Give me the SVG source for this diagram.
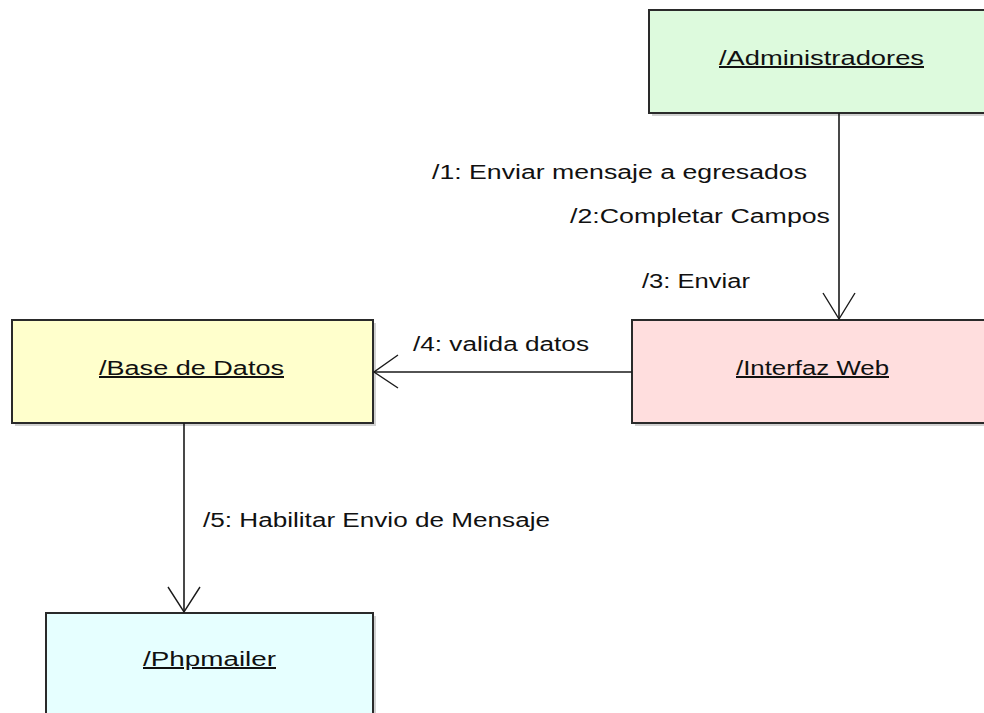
<svg xmlns="http://www.w3.org/2000/svg" width="984" height="713" viewBox="0 0 984 713">
<style>
.box{stroke:#2a2a2a;stroke-width:2}
.shadow{fill:#000;opacity:0.18}
.lbl{font-family:"Liberation Sans",Arial,sans-serif;font-size:20px;fill:#111}
.nl{text-decoration:underline}
.conn{stroke:#1a1a1a;stroke-width:1.6;fill:none}
.head{stroke:#1a1a1a;stroke-width:1.4;fill:none}
</style>
<rect width="984" height="713" fill="#fff"/>
<g id="administradores">
<rect class="shadow" x="652" y="13" width="340" height="103"/>
<rect class="box" x="649" y="10" width="340" height="103" fill="#ddfadd"/>
<text class="lbl nl" x="719" y="65" textLength="205" lengthAdjust="spacingAndGlyphs">/Administradores</text>
</g>
<g id="interfaz-web">
<rect class="shadow" x="635" y="323" width="360" height="103"/>
<rect class="box" x="632" y="320" width="360" height="103" fill="#ffdede"/>
<text class="lbl nl" x="736" y="375" textLength="153" lengthAdjust="spacingAndGlyphs">/Interfaz Web</text>
</g>
<g id="base-de-datos">
<rect class="shadow" x="15" y="323" width="361" height="103"/>
<rect class="box" x="12" y="320" width="361" height="103" fill="#ffffcc"/>
<text class="lbl nl" x="99" y="375" textLength="185" lengthAdjust="spacingAndGlyphs">/Base de Datos</text>
</g>
<g id="phpmailer">
<rect class="shadow" x="49" y="616" width="327" height="110"/>
<rect class="box" x="46" y="613" width="327" height="110" fill="#e6ffff"/>
<text class="lbl nl" x="143" y="666" textLength="133" lengthAdjust="spacingAndGlyphs">/Phpmailer</text>
</g>
<g id="connectors">
<line class="conn" x1="839" y1="113" x2="839" y2="319"/>
<polyline class="head" points="823,293 839,319 855,293"/>
<line class="conn" x1="632" y1="372" x2="374" y2="372"/>
<polyline class="head" points="398,355 374,372 398,388"/>
<line class="conn" x1="184" y1="423" x2="184" y2="612"/>
<polyline class="head" points="168,587 184,612 200,587"/>
<text class="lbl" x="432" y="179" textLength="375" lengthAdjust="spacingAndGlyphs">/1: Enviar mensaje a egresados</text>
<text class="lbl" x="570" y="223" textLength="260" lengthAdjust="spacingAndGlyphs">/2:Completar Campos</text>
<text class="lbl" x="642" y="288" textLength="108" lengthAdjust="spacingAndGlyphs">/3: Enviar</text>
<text class="lbl" x="413" y="351" textLength="176" lengthAdjust="spacingAndGlyphs">/4: valida datos</text>
<text class="lbl" x="203" y="527" textLength="347" lengthAdjust="spacingAndGlyphs">/5: Habilitar Envio de Mensaje</text>
</g>
</svg>
